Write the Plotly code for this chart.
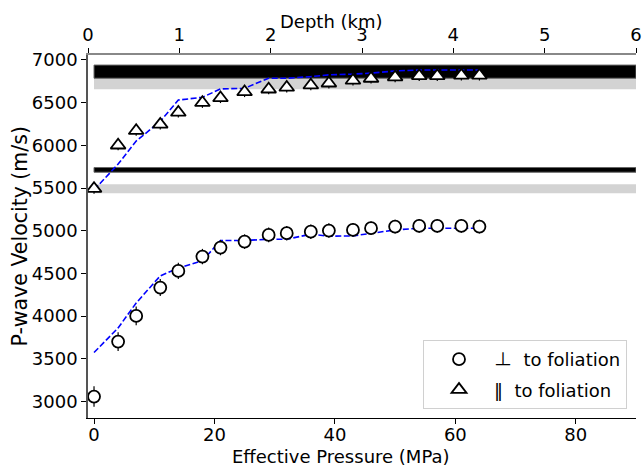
import plotly.graph_objects as go

# ---- data ----
pressure = [0, 4, 7, 11, 14, 18, 21, 25, 29, 32, 36, 39, 43, 46, 50, 54, 57, 61, 64]
vp_perp = [3057, 3701, 4002, 4334, 4529, 4697, 4802, 4872, 4951, 4971, 4989, 5001, 5009, 5029, 5048, 5056, 5056, 5056, 5048]
vp_perp_err = [120, 110, 110, 100, 95, 90, 90, 85, 85, 85, 85, 85, 80, 80, 80, 80, 80, 80, 80]
vp_par = [5493, 6001, 6171, 6245, 6385, 6499, 6555, 6625, 6657, 6678, 6704, 6727, 6760, 6783, 6799, 6813, 6813, 6819, 6819]
vp_par_err = [60, 60, 60, 60, 60, 60, 60, 60, 60, 60, 60, 60, 60, 60, 60, 60, 60, 60, 60]
model_perp = [3573, 3861, 4153, 4471, 4561, 4647, 4885, 4885, 4900, 4900, 4959, 4935, 4939, 4971, 5009, 5029, 5029, 5029, 5029]
model_par = [5478, 5780, 6050, 6280, 6530, 6563, 6660, 6668, 6786, 6786, 6805, 6826, 6834, 6846, 6871, 6883, 6883, 6883, 6883]

band_x = [0, 90]
black_lo = [6786, 5685]
black_hi = [6940, 5740]
gray_lo = [6657, 5440]
gray_hi = [6786, 5545]

x_ticks = [0, 20, 40, 60, 80]
depth_ticks = [0, 1, 2, 3, 4, 5, 6]
y_ticks = [3000, 3500, 4000, 4500, 5000, 5500, 6000, 6500, 7000]

FONT = "DejaVu Sans"
FS = 18

fig = go.Figure()

# model curves
fig.add_trace(go.Scatter(x=pressure, y=model_perp, mode="lines",
                         line=dict(color="#0000ff", width=1.6, dash="6px,2.5px"),
                         showlegend=False, hoverinfo="skip"))
fig.add_trace(go.Scatter(x=pressure, y=model_par, mode="lines",
                         line=dict(color="#0000ff", width=1.6, dash="6px,2.5px"),
                         showlegend=False, hoverinfo="skip"))

# measurements
fig.add_trace(go.Scatter(x=pressure, y=vp_perp, mode="markers",
                         name='<span style="font-family:\'Noto Sans CJK JP\';color:#000000">⊥</span>  to foliation',
                         legendgroup="a",
                         marker=dict(symbol="circle", size=12, color="white",
                                     line=dict(color="black", width=1.8)),
                         error_y=dict(type="data", array=vp_perp_err, color="black",
                                      thickness=1.2, width=0)))
fig.add_trace(go.Scatter(x=pressure, y=vp_par, mode="markers", name="‖  to foliation",
                         legendgroup="b",
                         marker=dict(symbol="triangle-up", size=13, color="white",
                                     line=dict(color="black", width=1.8)),
                         error_y=dict(type="data", array=vp_par_err, color="black",
                                      thickness=1.2, width=0)))

# depth axis (top)
fig.add_trace(go.Scatter(x=[depth_ticks[0], depth_ticks[-1]], y=[None, None], xaxis="x2",
                         mode="lines", showlegend=False, hoverinfo="skip"))

shapes = []
for lo, hi in zip(gray_lo, gray_hi):
    shapes.append(dict(type="rect", xref="x", yref="y", x0=band_x[0], x1=band_x[1],
                       y0=lo, y1=hi, fillcolor="#d3d3d3", line=dict(width=0), layer="below"))
for lo, hi in zip(black_lo, black_hi):
    shapes.append(dict(type="rect", xref="x", yref="y", x0=band_x[0], x1=band_x[1],
                       y0=lo, y1=hi, fillcolor="black", line=dict(color="#666666", width=1),
                       layer="below"))

annotations = [
    dict(text="Effective Pressure (MPa)", xref="paper", yref="paper", x=0.4625, y=0,
         xanchor="center", yanchor="middle", yshift=-38, showarrow=False,
         font=dict(size=FS)),
    dict(text="Depth (km)", xref="paper", yref="paper", x=0.444, y=1,
         xanchor="center", yanchor="middle", yshift=33.5, showarrow=False,
         font=dict(size=FS)),
    dict(text="P-wave Velocity (m/s)", xref="paper", yref="paper", x=0, y=0.5,
         xanchor="center", yanchor="middle", xshift=-69, textangle=-90, showarrow=False,
         font=dict(size=20.5)),
]

fig.update_layout(
    width=643, height=466,
    margin=dict(l=88, r=7, t=55, b=48, autoexpand=False),
    plot_bgcolor="white", paper_bgcolor="white",
    font=dict(family=FONT, size=FS, color="black"),
    shapes=shapes,
    annotations=annotations,
    xaxis=dict(range=[-1, 90], tickvals=x_ticks, ticks="outside", ticklen=5, tickwidth=1,
               tickcolor="black", showline=True, linecolor="black", linewidth=1,
               mirror=False, showgrid=False, zeroline=False, automargin=False,
               ticklabelstandoff=-5, tickfont=dict(size=FS)),
    xaxis2=dict(range=[0, 6], tickvals=depth_ticks, overlaying="x", side="top", anchor="y",
                ticks="outside", ticklen=5, tickcolor="black", showline=True,
                linecolor="#888888", linewidth=2, showgrid=False, zeroline=False,
                automargin=False, tickfont=dict(size=FS)),
    yaxis=dict(range=[2806, 7058], tickvals=y_ticks, ticks="outside", ticklen=5,
               tickcolor="black", showline=True, linecolor="#555555", linewidth=1.5,
               showgrid=False, zeroline=False, automargin=False, tickfont=dict(size=FS)),
    yaxis2=dict(overlaying="y", side="right", showline=True, linecolor="black", linewidth=2,
                showticklabels=False, ticks="", showgrid=False, zeroline=False,
                automargin=False, range=[0, 1]),
    legend=dict(x=0.9836, y=0.0248, xanchor="right", yanchor="bottom",
                bgcolor="white", bordercolor="#d0d0d0", borderwidth=1,
                font=dict(size=FS, color="black"), itemwidth=60, tracegroupgap=4),
)

fig.write_html("out.html", config={"displayModeBar": False},
               post_script="document.body.style.margin='0px';")
